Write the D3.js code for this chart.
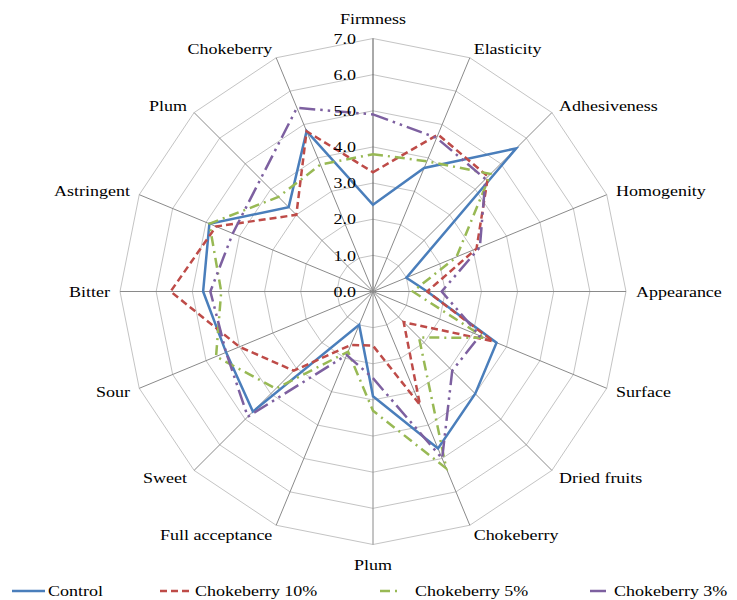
<!DOCTYPE html>
<html>
<head>
<meta charset="utf-8">
<script src="https://cdn.jsdelivr.net/npm/d3@7"></script>
<style>
  body { margin: 0; background: #fff; }
</style>
</head>
<body>
<div id="chart"></div>
<script>
// axes, clockwise from the top
var attributes = ["Firmness", "Elasticity", "Adhesiveness", "Homogenity", "Appearance", "Surface",
  "Dried fruits", "Chokeberry", "Plum", "Full acceptance", "Sweet", "Sour", "Bitter",
  "Astringent", "Plum", "Chokeberry"];

var seriesNames = ["Control", "Chokeberry 10%", "Chokeberry 5%", "Chokeberry 3%"];

var control  = [2.4, 3.7, 5.6, 1.0, 1.5, 3.7, 4.0, 4.7, 2.9, 1.0, 4.7, 4.4, 4.7, 4.9, 3.3, 4.8];
var choke10  = [3.3, 4.7, 4.5, 3.1, 1.5, 3.6, 1.2, 3.4, 1.5, 1.6, 3.1, 4.0, 5.6, 4.7, 3.0, 4.8];
var choke5   = [3.8, 3.9, 4.6, 2.5, 1.1, 3.35, 1.8, 5.3, 3.3, 1.8, 3.8, 4.7, 4.2, 4.9, 3.7, 3.8];
var choke3   = [4.9, 4.6, 4.4, 3.2, 1.9, 3.2, 3.1, 5.0, 2.4, 1.9, 4.9, 4.4, 4.5, 4.2, 4.4, 5.5];

var ticks = [0, 1, 2, 3, 4, 5, 6, 7];

var width = 737, height = 600;
var cx = 373, cy = 291.5;

var colors = ["#4a7ebb", "#be4b48", "#98b954", "#7d60a0"];
var dashes = ["none", "7,4", "10,5,2,5", "16,5,2.5,5,2.5,5"];
var serif = "'Liberation Serif', 'Times New Roman', 'DejaVu Serif', serif";

const svg = d3.select("#chart").append("svg")
  .attr("width", width)
  .attr("height", height);

const chart = svg.append("g")
  .attr("transform", `translate(${cx},${cy})`);

var r = d3.scaleLinear().domain([0, 7]).range([0, 253]);
var angle = d3.scaleLinear().domain([0, attributes.length]).range([0, 2 * Math.PI]);

// text is a bit wider than the font in the picture
function putText(g, x, y, str, anchor) {
  return g.append("text")
    .attr("transform", `translate(${x},${y}) scale(1.2,1)`)
    .attr("text-anchor", anchor)
    .attr("dy", "0.35em")
    .attr("font-family", serif)
    .attr("font-size", 15)
    .attr("fill", "#000")
    .text(str);
}

// rings
var ring = d3.lineRadial()
  .angle(function(d, i) { return angle(i); })
  .radius(function(d) { return r(d); })
  .curve(d3.curveLinearClosed);

chart.selectAll(".ring")
  .data(ticks.slice(1))
  .enter()
  .append("path")
    .attr("class", "ring")
    .attr("d", function(t) { return ring(attributes.map(function() { return t; })); })
    .attr("fill", "none")
    .attr("stroke", "#c4c4c4")
    .attr("stroke-width", 1);

// spokes
chart.selectAll(".spoke")
  .data(attributes)
  .enter()
  .append("line")
    .attr("class", "spoke")
    .attr("x1", 0).attr("y1", 0)
    .attr("x2", function(d, i) { return r(7) * Math.sin(angle(i)); })
    .attr("y2", function(d, i) { return -r(7) * Math.cos(angle(i)); })
    .attr("stroke", function(d, i) { return i == 0 ? "#555" : "#8a8a8a"; })
    .attr("stroke-width", 1);

// series
var allSeries = [control, choke10, choke5, choke3];

var line = d3.lineRadial()
  .angle(function(d, i) { return angle(i); })
  .radius(function(d) { return r(d); })
  .curve(d3.curveLinearClosed);

chart.selectAll(".series")
  .data(allSeries)
  .enter()
  .append("path")
    .attr("class", "series")
    .attr("d", line)
    .attr("fill", "none")
    .attr("stroke", function(d, i) { return colors[i]; })
    .attr("stroke-width", 2.5)
    .attr("stroke-dasharray", function(d, i) { return dashes[i]; })
    .attr("stroke-linejoin", "miter");

// value labels on the vertical axis
var fmt = d3.format(".1f");
ticks.forEach(function(t) {
  putText(chart, -17, -r(t), fmt(t), "end");
});

// attribute labels
attributes.forEach(function(name, i) {
  var a = angle(i);
  var s = Math.sin(a), c = Math.cos(a);
  var rad = r(7) + 10;
  if (Math.abs(s) < 0.01) rad = r(7) + 20;
  var anchor = Math.abs(s) < 0.01 ? "middle" : (s > 0 ? "start" : "end");
  putText(chart, rad * s, -rad * c, name, anchor);
});

// legend
var legendX = [12, 160, 380, 590];
var legendLen = [33, 32, 20, 21];
var legendY = 591;
var legend = svg.append("g");
seriesNames.forEach(function(name, i) {
  legend.append("line")
    .attr("x1", legendX[i]).attr("x2", legendX[i] + legendLen[i])
    .attr("y1", legendY).attr("y2", legendY)
    .attr("stroke", colors[i])
    .attr("stroke-width", 2.5)
    .attr("stroke-dasharray", dashes[i]);
  putText(legend, legendX[i] + legendLen[i] + (i == 2 ? 15 : 3), legendY, name, "start");
});
</script>
</body>
</html>
